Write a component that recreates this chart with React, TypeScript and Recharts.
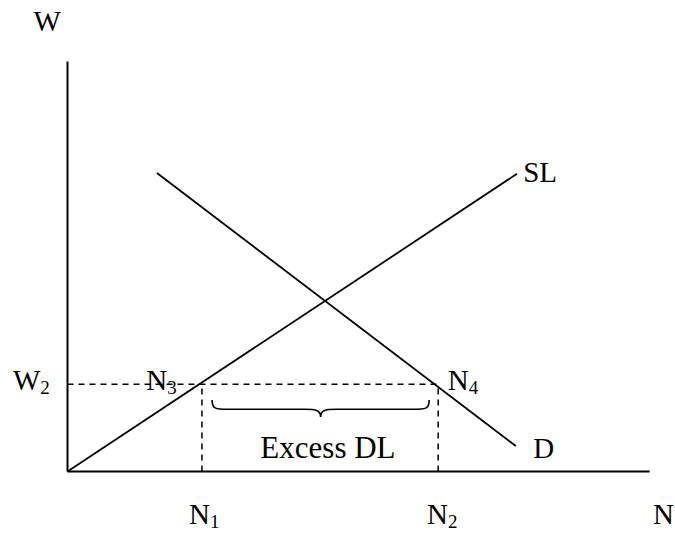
import React from "react";
import {
  ComposedChart,
  Line,
  XAxis,
  YAxis,
  ReferenceLine,
  ReferenceArea,
  Scatter,
} from "recharts";

// Curve endpoints (abstract units: N on x, W on y)
const supplyPoints = [
  { x: 0, y: 0 },
  { x: 7.99, y: 7.26 },
];
const demandPoints = [
  { x: 1.59, y: 7.28 },
  { x: 7.97, y: 0.62 },
];

// Key levels
const W2 = 2.13;
const N1 = 2.39;
const N2 = 6.59;
const xAxisEnd = 10.35;
const yAxisEnd = 10.0;

// Excess demand brace span
const braceX = [2.57, 6.43];
const braceY = [1.33, 1.745];

// Text labels
const labels = [
  { x: -0.36, y: 10.74, main: "W", sub: "", anchor: "middle", size: 29 },
  { x: 8.1, y: 7.06, main: "SL", sub: "", anchor: "start", size: 29 },
  { x: 8.28, y: 0.33, main: "D", sub: "", anchor: "start", size: 29 },
  { x: -0.97, y: 1.99, main: "W", sub: "2", anchor: "start", size: 29 },
  { x: 1.4, y: 1.99, main: "N", sub: "3", anchor: "start", size: 29 },
  { x: 6.76, y: 1.99, main: "N", sub: "4", anchor: "start", size: 29 },
  { x: 2.16, y: -1.29, main: "N", sub: "1", anchor: "start", size: 29 },
  { x: 6.39, y: -1.29, main: "N", sub: "2", anchor: "start", size: 29 },
  { x: 10.41, y: -1.29, main: "N", sub: "", anchor: "start", size: 29 },
  { x: 4.63, y: 0.33, main: "Excess DL", sub: "", anchor: "middle", size: 31 },
];

const FONT = "'Liberation Serif', 'Times New Roman', serif";

const LabelShape = (props: any) => {
  const { cx, cy, payload } = props;
  return (
    <text
      x={cx}
      y={cy}
      fontFamily={FONT}
      fontSize={payload.size}
      fill="#000"
      textAnchor={payload.anchor}
    >
      {payload.main}
      {payload.sub ? (
        <tspan fontSize={19} dy={4}>
          {payload.sub}
        </tspan>
      ) : null}
    </text>
  );
};

const BraceShape = (props: any) => {
  const { x, y, width, height } = props;
  const mid = x + width / 2;
  const yf = y + height * 0.55;
  const tip = y + height;
  const r = 16;
  const d = [
    `M ${x} ${y}`,
    `C ${x} ${yf} ${x + 4} ${yf} ${x + r} ${yf}`,
    `L ${mid - r} ${yf}`,
    `C ${mid - 4} ${yf} ${mid} ${yf + 1} ${mid} ${tip}`,
    `C ${mid} ${yf + 1} ${mid + 4} ${yf} ${mid + r} ${yf}`,
    `L ${x + width - r} ${yf}`,
    `C ${x + width - 4} ${yf} ${x + width} ${yf} ${x + width} ${y}`,
  ].join(" ");
  return <path d={d} fill="none" stroke="#000" strokeWidth={1.6} />;
};

export default function App() {
  return (
    <div
      style={{
        position: "absolute",
        left: 0,
        top: 0,
        width: 675,
        height: 533,
        background: "#fff",
      }}
    >
      <ComposedChart
        width={675}
        height={533}
        margin={{ top: 0, right: 0, bottom: 0, left: 0 }}
      >
        <XAxis type="number" dataKey="x" domain={[-1.2, 10.8]} hide />
        <YAxis type="number" dataKey="y" domain={[-1.5, 11.5]} hide />

        {/* axes */}
        <ReferenceLine
          segment={[
            { x: 0, y: 0 },
            { x: xAxisEnd, y: 0 },
          ]}
          stroke="#000"
          strokeWidth={2}
        />
        <ReferenceLine
          segment={[
            { x: 0, y: 0 },
            { x: 0, y: yAxisEnd },
          ]}
          stroke="#000"
          strokeWidth={2}
        />

        {/* dashed guides */}
        <ReferenceLine
          segment={[
            { x: 0, y: W2 },
            { x: N2, y: W2 },
          ]}
          stroke="#000"
          strokeWidth={1.5}
          strokeDasharray="6 5"
        />
        <ReferenceLine
          segment={[
            { x: N1, y: 0 },
            { x: N1, y: W2 },
          ]}
          stroke="#000"
          strokeWidth={1.5}
          strokeDasharray="6 5"
        />
        <ReferenceLine
          segment={[
            { x: N2, y: 0 },
            { x: N2, y: W2 },
          ]}
          stroke="#000"
          strokeWidth={1.5}
          strokeDasharray="6 5"
        />

        <Line
          data={supplyPoints}
          dataKey="y"
          type="linear"
          stroke="#000"
          strokeWidth={1.8}
          dot={false}
          isAnimationActive={false}
        />
        <Line
          data={demandPoints}
          dataKey="y"
          type="linear"
          stroke="#000"
          strokeWidth={1.8}
          dot={false}
          isAnimationActive={false}
        />

        <ReferenceArea
          x1={braceX[0]}
          x2={braceX[1]}
          y1={braceY[0]}
          y2={braceY[1]}
          shape={BraceShape}
        />

        <Scatter
          data={labels}
          dataKey="y"
          shape={LabelShape}
          isAnimationActive={false}
        />
      </ComposedChart>
    </div>
  );
}
